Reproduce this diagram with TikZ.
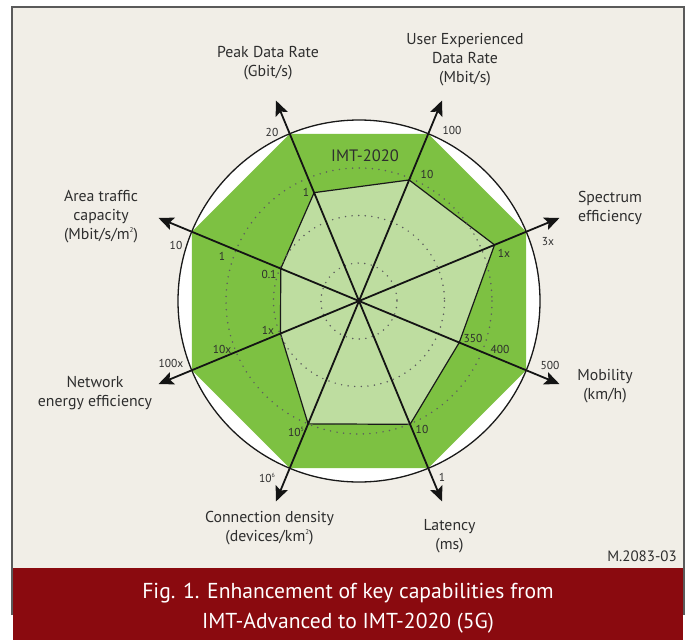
\documentclass[tikz,border=0pt]{standalone}
\usepackage{fontspec}
\setmainfont{PT Sans}
\usetikzlibrary{arrows.meta,calc}
\definecolor{bg}{HTML}{F1EEE7}
\definecolor{capred}{HTML}{8A0A0F}
\definecolor{dkgreen}{HTML}{7DC142}
\definecolor{ltgreen}{HTML}{BEDDA0}
\definecolor{txt}{HTML}{2E2E2E}
\definecolor{dotc}{HTML}{5E5E5E}
\definecolor{framec}{HTML}{5A5A5A}
\newcommand{\smallsup}[1]{\raisebox{0.9ex}{\fontsize{7}{8}\selectfont #1}}
\newcommand{\tinysup}[1]{\raisebox{0.8ex}{\fontsize{6}{7}\selectfont #1}}
\begin{document}
\begin{tikzpicture}[x=1pt,y=-1pt,
  lbl/.style={font=\fontsize{15.8}{19}\selectfont, text=txt, align=center, inner sep=0pt},
  tick/.style={font=\fontsize{11.5}{12}\selectfont, text=txt, inner sep=0pt},
  spoke/.style={line width=1.8pt, draw=black!92, -{Stealth[length=15pt,width=13pt,inset=3pt]}},
  dotring/.style={draw=dotc, line width=1.7pt, line cap=round, dash pattern=on 0pt off 6.6pt},
  capt/.style={font=\fontsize{21.6}{30}\selectfont, text=white, align=center, inner sep=0pt}]
\useasboundingbox (0,0) rectangle (690,640);
\fill[white] (0,0) rectangle (690,640);
\fill[bg] (12,7) rectangle (683.5,615);
\draw[framec, line width=1.6pt] (11.8,615) -- (11.8,7) -- (683.7,7) -- (683.7,615);
\fill[capred] (12.6,568) rectangle (683,640);

\coordinate (c) at (359,301);
\foreach \n/\a/\r in {S/22.5/146.7, U/67.5/131, P/112.5/117.3, A/157.5/84.7, N/202.5/85, C/247.5/133, L/292.5/133.5, M/337.5/108.5} {
  \coordinate (o\n) at ($(c)+(-\a:181)$);
  \coordinate (i\n) at ($(c)+(-\a:\r)$);
  \coordinate (t\n) at ($(c)+(-\a:217)$);
}
\fill[white] (c) circle (181);
\fill[dkgreen] (oS) -- (oU) -- (oP) -- (oA) -- (oN) -- (oC) -- (oL) -- (oM) -- cycle;
\draw[fill=ltgreen, line width=1.2pt, draw=black!90] (iS) -- (iU) -- (iP) -- (iA) -- (iN) -- (iC) -- (iL) -- (iM) -- cycle;
\draw[dotring] (c) circle (38);
\draw[dotring] (c) circle (85.5);
\draw[dotring] (c) circle (133);
\foreach \n in {S,U,P,A,N,C,L,M} { \draw[spoke] (c) -- (t\n); }
\draw[line width=1.3pt, draw=black!90] (c) circle (181);

\node[font=\fontsize{16.5}{18}\selectfont, text=txt, inner sep=0pt] (imt) at (365,156) {IMT-2020};

% tick labels
\node[tick] (k20) at (272,132) {20};
\node[tick] (k1p) at (306,192) {1};
\node[tick] (k100) at (452,130) {100};
\node[tick] (k10u) at (427,174) {10};
\node[tick] (k3x) at (548,242) {3x};
\node[tick] (k1s) at (504,253) {1x};
\node[tick] (k500) at (550,365) {500};
\node[tick] (k400) at (500,349) {400};
\node[tick] (k350) at (473,338) {350};
\node[tick] (k10l) at (422,429) {10};
\node[tick] (k1l) at (442,477) {1};
\node[tick] (k106) at (267,478) {10\tinysup{6}};
\node[tick] (k105) at (296,432) {10\tinysup{5}};
\node[tick] (k100x) at (171,363) {100x};
\node[tick] (k10x) at (222,349) {10x};
\node[tick] (k1n) at (268,330) {1x};
\node[tick] (k10a) at (176,245) {10};
\node[tick] (k1a) at (222,256) {1};
\node[tick] (k01) at (269,274) {0.1};

% axis titles
\node[lbl] (lP) at (268,63.5) {Peak Data Rate\\(Gbit/s)};
\node[lbl] (lU) at (465,60) {User Experienced\\Data Rate\\(Mbit/s)};
\node[lbl] (lS) at (610,207.5) {Spectrum\\efficiency};
\node[lbl] (lM) at (605,386.5) {Mobility\\(km/h)};
\node[lbl] (lL) at (449.5,536) {Latency\\(ms)};
\node[lbl] (lC) at (269.5,528) {Connection density\\(devices/km\smallsup{2})};
\node[lbl] (lN) at (95,393.5) {Network\\energy efficiency};
\node[lbl] (lA) at (101,217) {Area traffic\\capacity\\(Mbit/s/m\smallsup{2})};

\node[font=\fontsize{15}{16}\selectfont, text=txt, anchor=east, inner sep=0pt] (ref) at (677,556) {M.2083-03};
\node[capt] (cap) at (348,608) {Fig. 1. Enhancement of key capabilities from\\IMT-Advanced to IMT-2020 (5G)};
\end{tikzpicture}
\end{document}
